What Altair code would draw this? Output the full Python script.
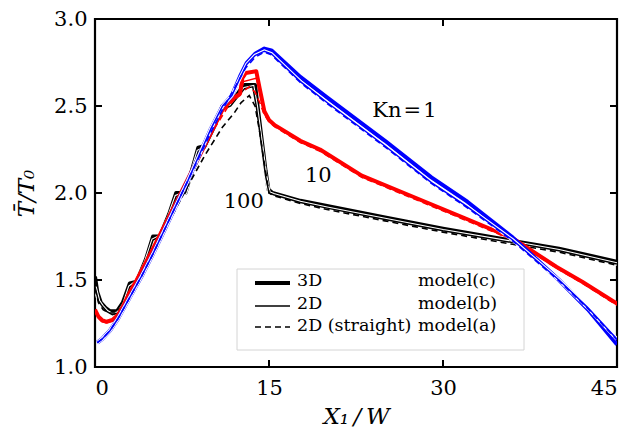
import altair as alt
import pandas as pd

# ---------------- data ----------------
# Kn = 100 (black)
K100_3D_X = [0.0, 0.2, 0.5, 0.9, 1.3, 1.9, 2.4, 3.0, 3.6, 4.4, 5.0, 5.6, 6.4, 7.0, 7.8, 8.4, 8.9, 9.5, 10.3, 11.0,
             11.7, 12.4, 12.9, 13.8, 14.05, 14.4, 14.7, 14.95, 15.3, 17.7, 20.0, 25.0, 30.0, 36.0, 40.0, 45.0]
K100_3D_Y = [1.52, 1.43, 1.37, 1.34, 1.32, 1.32, 1.37, 1.48, 1.49, 1.62, 1.75, 1.75, 1.88, 2.00, 2.00, 2.14, 2.26, 2.27,
             2.38, 2.50, 2.51, 2.58, 2.62, 2.62, 2.48, 2.29, 2.13, 2.02, 2.00, 1.955, 1.925, 1.86, 1.795, 1.725, 1.68, 1.605]
K100_2D_X = [0.0, 0.3, 0.6, 1.0, 1.5, 2.0, 2.5, 3.0, 3.6, 4.4, 5.0, 5.6, 6.4, 7.0, 7.8, 8.4, 8.9, 9.5, 10.3, 11.0,
             11.7, 12.4, 12.9, 13.6, 13.9, 14.3, 14.7, 15.0, 15.4, 17.7, 20.0, 25.0, 30.0, 36.0, 40.0, 45.0]
K100_2D_Y = [1.46, 1.38, 1.35, 1.32, 1.30, 1.31, 1.36, 1.46, 1.49, 1.61, 1.73, 1.75, 1.87, 1.98, 2.00, 2.13, 2.24, 2.26,
             2.37, 2.48, 2.50, 2.56, 2.60, 2.61, 2.50, 2.30, 2.10, 2.00, 1.99, 1.945, 1.913, 1.848, 1.783, 1.715, 1.668, 1.592]
K100_ST_X = [0.0, 0.3, 0.7, 1.2, 1.8, 2.5, 3.5, 5.0, 6.5, 8.0, 9.5, 11.0, 12.0, 12.6, 13.3, 13.8, 14.2, 14.6, 15.0,
             15.4, 17.7, 20.0, 25.0, 30.0, 36.0, 40.0, 45.0]
K100_ST_Y = [1.45, 1.37, 1.33, 1.31, 1.31, 1.36, 1.47, 1.66, 1.85, 2.04, 2.22, 2.38, 2.46, 2.52, 2.56, 2.50, 2.35, 2.17,
             2.00, 1.985, 1.94, 1.905, 1.84, 1.775, 1.705, 1.66, 1.585]

# Kn = 10 (red)
K10_3D_X = [0.0, 0.3, 0.6, 1.0, 1.5, 2.0, 2.5, 3.0, 3.6, 5.0, 6.5, 8.0, 9.5, 11.0, 11.8, 12.5, 12.7, 13.0, 13.9, 14.2,
            14.6, 15.0, 15.5, 16.0, 17.7, 19.4, 23.0, 27.0, 31.9, 36.0, 39.8, 42.0, 45.0]
K10_3D_Y = [1.33, 1.29, 1.27, 1.26, 1.27, 1.30, 1.36, 1.43, 1.50, 1.68, 1.88, 2.08, 2.28, 2.48, 2.54, 2.57, 2.66, 2.69,
            2.70, 2.60, 2.47, 2.42, 2.39, 2.37, 2.30, 2.25, 2.10, 1.99, 1.855, 1.74, 1.575, 1.49, 1.365]
K10_2D_X = [0.0, 0.3, 0.6, 1.0, 1.5, 2.0, 2.5, 3.0, 3.6, 5.0, 6.5, 8.0, 9.5, 11.0, 11.8, 12.5, 12.8, 13.9, 14.2,
            14.6, 15.0, 15.5, 16.0, 17.7, 19.4, 23.0, 27.0, 31.9, 36.0, 39.8, 42.0, 45.0]
K10_2D_Y = [1.32, 1.28, 1.26, 1.255, 1.265, 1.295, 1.355, 1.425, 1.495, 1.675, 1.875, 2.075, 2.275, 2.47, 2.53, 2.56,
            2.64, 2.66, 2.58, 2.46, 2.415, 2.385, 2.365, 2.295, 2.245, 2.095, 1.985, 1.85, 1.735, 1.57, 1.485, 1.36]
K10_ST_X = [0.0, 0.4, 1.0, 1.6, 2.2, 3.0, 4.0, 5.5, 7.0, 8.5, 10.0, 11.5, 12.5, 13.3, 13.8, 14.2, 14.6, 15.0, 15.5,
            16.0, 17.7, 19.4, 23.0, 27.0, 31.9, 36.0, 39.8, 42.0, 45.0]
K10_ST_Y = [1.32, 1.28, 1.26, 1.27, 1.31, 1.42, 1.55, 1.74, 1.94, 2.14, 2.34, 2.50, 2.57, 2.61, 2.58, 2.52, 2.45, 2.41,
            2.38, 2.36, 2.29, 2.24, 2.09, 1.98, 1.845, 1.73, 1.568, 1.482, 1.355]

# Kn = 1 (blue)
K1_3D_X = [0.2, 0.6, 1.3, 2.0, 3.0, 4.0, 5.0, 6.0, 7.0, 8.0, 9.0, 10.0, 11.0, 11.8, 12.5, 13.1, 13.8, 14.6, 15.2,
           17.7, 20.0, 25.0, 29.0, 32.1, 36.0, 40.0, 42.5, 45.0]
K1_3D_Y = [1.14, 1.16, 1.21, 1.28, 1.40, 1.52, 1.65, 1.79, 1.93, 2.07, 2.22, 2.37, 2.50, 2.56, 2.67, 2.75, 2.80, 2.83,
           2.82, 2.667, 2.55, 2.30, 2.09, 1.95, 1.745, 1.50, 1.33, 1.13]
K1_2D_X = [0.2, 0.6, 1.3, 2.0, 3.0, 4.0, 5.0, 6.0, 7.0, 8.0, 9.0, 10.0, 11.0, 11.8, 12.5, 13.1, 13.8, 14.6, 15.2,
           17.7, 20.0, 25.0, 29.0, 32.1, 36.0, 40.0, 42.5, 45.0]
K1_2D_Y = [1.14, 1.16, 1.21, 1.28, 1.40, 1.52, 1.65, 1.79, 1.93, 2.07, 2.22, 2.37, 2.50, 2.56, 2.66, 2.74, 2.79, 2.815,
           2.80, 2.64, 2.52, 2.27, 2.06, 1.92, 1.73, 1.50, 1.34, 1.16]
K1_ST_X = [0.2, 0.6, 1.3, 2.0, 3.0, 4.0, 5.0, 6.0, 7.0, 8.0, 9.0, 10.0, 11.0, 12.0, 13.0, 13.8, 14.6, 15.2,
           17.7, 20.0, 25.0, 29.0, 32.1, 36.0, 40.0, 42.5, 45.0]
K1_ST_Y = [1.14, 1.16, 1.21, 1.28, 1.40, 1.52, 1.65, 1.79, 1.93, 2.07, 2.21, 2.35, 2.48, 2.60, 2.72, 2.78, 2.81,
           2.795, 2.635, 2.515, 2.265, 2.055, 1.915, 1.725, 1.495, 1.335, 1.155]

X_TICKS = [0, 15, 30, 45]
Y_TICKS = [1.0, 1.5, 2.0, 2.5, 3.0]
X_INNER_TICKS = [15, 30]
Y_INNER_TICKS = [1.5, 2.0, 2.5]

ANNOT_TEXT = ["Kn\u200a=\u200a1", "10", "100"]
ANNOT_X = [23.9, 18.1, 11.1]
ANNOT_Y = [2.437, 2.063, 1.914]

LEGEND_LABELS = ["3D", "2D", "2D (straight)"]
LEGEND_MODELS = ["model(c)", "model(b)", "model(a)"]

# ---------------- chart ----------------
W, H = 522, 348
FONT = "DejaVu Serif"

xs = alt.Scale(domain=[0, 45], nice=False, zero=False)
ys = alt.Scale(domain=[1, 3], nice=False, zero=False)
xaxis = alt.Axis(values=X_TICKS, title="X\u2081\u2009/\u2009W", labelPadding=10, titlePadding=7)
yaxis = alt.Axis(values=Y_TICKS, format=".1f", title="T\u0304/T\u2080", labelPadding=8, titlePadding=15)


def X(f="x"):
    return alt.X(f + ":Q", scale=xs, axis=xaxis)


def Y(f="y"):
    return alt.Y(f + ":Q", scale=ys, axis=yaxis)


BLACK, RED, BLUE = "#000000", "#ff0000", "#0000ff"
series = [
    (K100_3D_X, K100_3D_Y, BLACK, "thick"),
    (K100_2D_X, K100_2D_Y, BLACK, "thin_cased"),
    (K100_ST_X, K100_ST_Y, BLACK, "dash"),
    (K10_3D_X, K10_3D_Y, RED, "thick"),
    (K10_2D_X, K10_2D_Y, RED, "thin"),
    (K10_ST_X, K10_ST_Y, RED, "dash"),
    (K1_3D_X, K1_3D_Y, BLUE, "thick"),
    (K1_2D_X, K1_2D_Y, BLUE, "thin_cased"),
    (K1_ST_X, K1_ST_Y, BLUE, "dash"),
]

layers = []
for xv, yv, col, sty in series:
    df = pd.DataFrame({"x": xv, "y": yv})
    base = alt.Chart(df)
    if sty == "thick":
        layers.append(base.mark_line(color=col, strokeWidth=4, clip=True, strokeJoin="round").encode(x=X(), y=Y()))
    elif sty == "thin_cased":
        layers.append(base.mark_line(color="white", strokeWidth=3.6, clip=True).encode(x=X(), y=Y()))
        layers.append(base.mark_line(color=col, strokeWidth=1.5, clip=True).encode(x=X(), y=Y()))
    elif sty == "thin":
        layers.append(base.mark_line(color=col, strokeWidth=1.5, clip=True).encode(x=X(), y=Y()))
    else:
        layers.append(base.mark_line(color=col, strokeWidth=1.6, strokeDash=[6, 4], clip=True).encode(x=X(), y=Y()))

# inward ticks on all four sides
xt = pd.DataFrame({"x": X_INNER_TICKS})
yt = pd.DataFrame({"y": Y_INNER_TICKS})
layers.append(alt.Chart(xt).mark_rule(color="black", strokeWidth=2).encode(x=X(), y=alt.value(H), y2=alt.value(H - 7)))
layers.append(alt.Chart(xt).mark_rule(color="black", strokeWidth=2).encode(x=X(), y=alt.value(0), y2=alt.value(7)))
layers.append(alt.Chart(yt).mark_rule(color="black", strokeWidth=2).encode(y=Y(), x=alt.value(0), x2=alt.value(7)))
layers.append(alt.Chart(yt).mark_rule(color="black", strokeWidth=2).encode(y=Y(), x=alt.value(W), x2=alt.value(W - 7)))

# curve annotations
ann = pd.DataFrame({"x": ANNOT_X, "y": ANNOT_Y, "t": ANNOT_TEXT})
layers.append(alt.Chart(ann).mark_text(font=FONT, fontSize=21, align="left", baseline="alphabetic", color="black")
              .encode(x=X(), y=Y(), text="t:N"))

# legend box
one = pd.DataFrame({"a": [0]})
layers.append(alt.Chart(one).mark_rect(fill="white", stroke="#d4d4d4", strokeWidth=1).encode(
    x=alt.value(142), x2=alt.value(429), y=alt.value(250), y2=alt.value(331)))
row_line_y = [264, 287, 308]
row_text_y = [267, 290, 312]
styles = [dict(strokeWidth=4), dict(strokeWidth=1.5), dict(strokeWidth=1.6, strokeDash=[6, 4])]
for i in range(3):
    layers.append(alt.Chart(one).mark_rule(color="black", **styles[i]).encode(
        x=alt.value(160), x2=alt.value(195), y=alt.value(row_line_y[i])))
    lab = pd.DataFrame({"t": [LEGEND_LABELS[i]], "m": [LEGEND_MODELS[i]]})
    layers.append(alt.Chart(lab).mark_text(font=FONT, fontSize=17.5, align="left", baseline="alphabetic",
                                           color="black").encode(x=alt.value(202), y=alt.value(row_text_y[i]), text="t:N"))
    layers.append(alt.Chart(lab).mark_text(font=FONT, fontSize=17.5, align="left", baseline="alphabetic",
                                           color="black").encode(x=alt.value(323), y=alt.value(row_text_y[i]), text="m:N"))

chart = alt.layer(*layers).properties(
    width=W, height=H,
    padding={"left": 95, "top": 19, "right": 14, "bottom": 72},
    autosize=alt.AutoSizeParams(type="none"),
    background="white",
).configure_view(stroke="black", strokeWidth=2.2).configure_axis(
    domain=False, grid=False, ticks=False, tickSize=0,
    labelFont=FONT, labelFontSize=21, labelColor="black",
    titleFont=FONT, titleFontSize=23, titleFontStyle="italic", titleFontWeight="normal", titleColor="black",
)

chart.save("out.html", embed_options={"renderer": "svg", "actions": False})
